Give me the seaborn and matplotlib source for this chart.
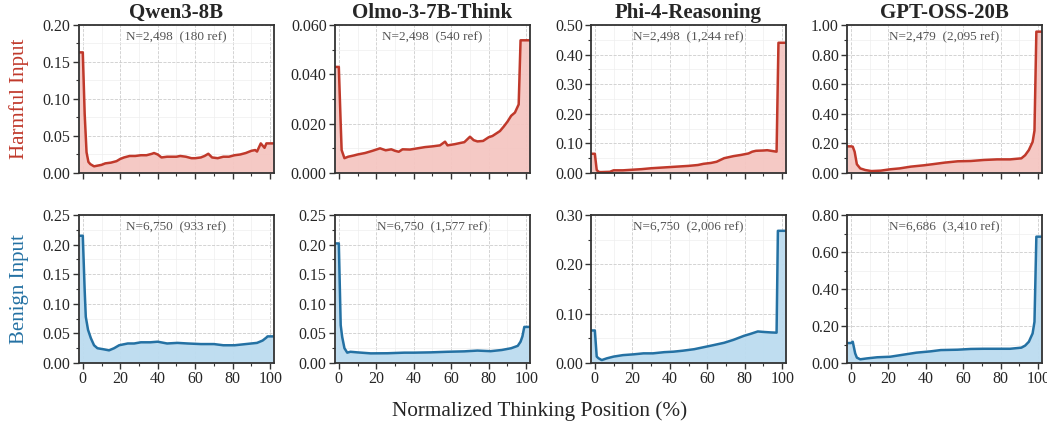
import numpy as np
import pandas as pd
import matplotlib
matplotlib.use("Agg")
import matplotlib.pyplot as plt
import seaborn as sns
from matplotlib.ticker import MultipleLocator, FormatStrFormatter

models = ["Qwen3-8B", "Olmo-3-7B-Think", "Phi-4-Reasoning", "GPT-OSS-20B"]
rows = ["Harmful Input", "Benign Input"]

# ---- Harmful series (x = normalized position %, y = density) ----
qwen_h_x = [-2, 0, 1, 2, 3, 4, 6, 8, 10, 12, 15, 18, 20, 22, 25, 28, 31, 34, 37, 38, 40, 42, 45, 50, 52, 55, 58, 60,
            63, 65, 67, 69, 72, 75, 78, 81, 84, 87, 90, 92, 93, 95, 97, 98, 100, 102]
qwen_h_y = [0.163, 0.163, 0.080, 0.028, 0.015, 0.012, 0.009, 0.010, 0.011, 0.013, 0.014, 0.016, 0.019, 0.021, 0.023,
            0.023, 0.024, 0.024, 0.026, 0.027, 0.025, 0.021, 0.022, 0.022, 0.023, 0.022, 0.020, 0.020, 0.021, 0.023,
            0.026, 0.021, 0.020, 0.022, 0.022, 0.024, 0.025, 0.027, 0.030, 0.031, 0.029, 0.040, 0.034, 0.040, 0.040, 0.040]

olmo_h_x = [-2, 0, 1, 1.5, 3, 5, 8, 10, 14, 18, 20, 22, 25, 28, 30, 32, 34, 38, 42, 46, 50, 54, 56.7, 58, 62, 65, 67,
            70, 72, 74, 77, 80, 82, 84, 86, 88, 90, 92, 94, 96, 97, 100, 102]
olmo_h_y = [0.043, 0.043, 0.020, 0.0093, 0.0060, 0.0066, 0.0071, 0.0075, 0.0081, 0.0090, 0.0095, 0.0100, 0.0092,
            0.0096, 0.0090, 0.0086, 0.0096, 0.0095, 0.0100, 0.0105, 0.0108, 0.0112, 0.0127, 0.0112, 0.0117, 0.0122,
            0.0125, 0.0147, 0.0133, 0.0128, 0.0130, 0.0145, 0.0150, 0.0160, 0.0170, 0.0188, 0.0208, 0.0232, 0.0245,
            0.0278, 0.0538, 0.0538, 0.0538]

phi_h_x = [-2, 0, 1, 2, 3, 8, 10, 15, 20, 25, 30, 35, 40, 45, 50, 55, 58, 62, 65, 69, 74, 78, 82, 84, 86, 90, 92, 95,
           97, 98, 100, 102]
phi_h_y = [0.065, 0.065, 0.010, 0.004, 0.003, 0.004, 0.009, 0.009, 0.011, 0.013, 0.016, 0.018, 0.020, 0.022, 0.024,
           0.027, 0.031, 0.034, 0.038, 0.050, 0.057, 0.061, 0.066, 0.072, 0.075, 0.076, 0.077, 0.074, 0.072, 0.440,
           0.440, 0.440]

gpt_h_x = [-2, 0, 1, 2, 3.2, 5, 7.7, 11, 16, 21, 26, 32, 39, 44, 50, 57, 64, 71, 78, 85, 91, 93, 95, 97, 98, 99, 100, 102]
gpt_h_y = [0.180, 0.180, 0.178, 0.144, 0.059, 0.031, 0.020, 0.013, 0.016, 0.025, 0.031, 0.043, 0.052, 0.060, 0.070,
           0.079, 0.081, 0.088, 0.092, 0.092, 0.099, 0.120, 0.155, 0.210, 0.286, 0.955, 0.955, 0.955]

# ---- Benign series ----
qwen_b_x = [-2, 0, 1, 1.6, 2.8, 4.3, 6, 7.8, 11.4, 14, 16.7, 19.4, 24, 27.4, 31, 36, 40, 45, 50.5, 56, 63, 70, 75, 81,
            84, 90, 93, 96, 98, 98.6, 100, 102]
qwen_b_y = [0.215, 0.215, 0.123, 0.078, 0.056, 0.042, 0.030, 0.025, 0.023, 0.0214, 0.025, 0.030, 0.033, 0.033, 0.035,
            0.035, 0.036, 0.033, 0.034, 0.033, 0.032, 0.032, 0.030, 0.030, 0.031, 0.033, 0.034, 0.038, 0.043, 0.045,
            0.045, 0.045]

olmo_b_x = [-2, 0, 1, 1.8, 3, 4.5, 6.2, 9.8, 17, 26, 35, 40, 49, 58, 67, 74, 81, 87, 92, 95.5, 97, 98, 99, 100, 102]
olmo_b_y = [0.202, 0.202, 0.064, 0.044, 0.025, 0.0175, 0.019, 0.018, 0.0163, 0.0165, 0.0175, 0.0175, 0.018, 0.019,
            0.0197, 0.021, 0.020, 0.022, 0.025, 0.029, 0.036, 0.045, 0.061, 0.061, 0.061]

phi_b_x = [-2, 0, 1, 2, 3.7, 6.4, 10, 15, 20.7, 26, 31, 37, 42, 47, 53, 58, 63, 69, 74, 79.5, 83, 87, 90, 94, 97, 97.7,
           100, 102]
phi_b_y = [0.066, 0.066, 0.013, 0.0095, 0.006, 0.0095, 0.013, 0.016, 0.0176, 0.0196, 0.0196, 0.022, 0.023, 0.025,
           0.028, 0.032, 0.036, 0.041, 0.047, 0.055, 0.059, 0.064, 0.063, 0.062, 0.0615, 0.268, 0.268, 0.268]

gpt_b_x = [-2, 0, 1, 2.3, 3.2, 5, 8.6, 14, 21, 28, 35, 42.5, 48, 57, 64, 71, 78, 85, 91, 93, 95, 97, 98, 99, 100, 102]
gpt_b_y = [0.108, 0.108, 0.115, 0.052, 0.029, 0.020, 0.025, 0.031, 0.034, 0.045, 0.056, 0.063, 0.070, 0.072, 0.076,
           0.077, 0.077, 0.077, 0.083, 0.094, 0.115, 0.160, 0.223, 0.683, 0.683, 0.683]

harm_series = [(qwen_h_x, qwen_h_y), (olmo_h_x, olmo_h_y), (phi_h_x, phi_h_y), (gpt_h_x, gpt_h_y)]
ben_series = [(qwen_b_x, qwen_b_y), (olmo_b_x, olmo_b_y), (phi_b_x, phi_b_y), (gpt_b_x, gpt_b_y)]

harm_notes = ["N=2,498  (180 ref)", "N=2,498  (540 ref)", "N=2,498  (1,244 ref)", "N=2,479  (2,095 ref)"]
ben_notes = ["N=6,750  (933 ref)", "N=6,750  (1,577 ref)", "N=6,750  (2,006 ref)", "N=6,686  (3,410 ref)"]

harm_ylim = [0.20, 0.060, 0.50, 1.00]
harm_major = [0.05, 0.020, 0.10, 0.20]
harm_fmt = ["%.2f", "%.3f", "%.2f", "%.2f"]
ben_ylim = [0.25, 0.25, 0.30, 0.80]
ben_major = [0.05, 0.05, 0.10, 0.20]
ben_fmt = ["%.2f", "%.2f", "%.2f", "%.2f"]

x_ticks = [0, 20, 40, 60, 80, 100]

RED = "#c0392b"
RED_FILL = "#f5c6c2"
BLUE = "#2471a3"
BLUE_FILL = "#bcdcf0"

sns.set_theme(style="ticks")
plt.rcParams["font.family"] = ["Liberation Serif", "DejaVu Serif"]
plt.rcParams["mathtext.fontset"] = "stix"

fig, axes = plt.subplots(2, 4, figsize=(10.47, 4.23), dpi=100)
fig.subplots_adjust(left=0.0755, right=0.9952, top=0.9409, bottom=0.1418, wspace=0.314, hspace=0.284)

def style_ax(ax, ymax, major, fmt, show_xlabels):
    ax.set_xlim(-2, 102)
    ax.set_ylim(0, ymax)
    ax.set_xticks(x_ticks)
    ax.xaxis.set_minor_locator(MultipleLocator(10))
    ax.yaxis.set_major_locator(MultipleLocator(major))
    ax.yaxis.set_minor_locator(MultipleLocator(major / 2))
    ax.yaxis.set_major_formatter(FormatStrFormatter(fmt))
    ax.grid(which="major", linestyle="--", linewidth=0.6, color="#cccccc")
    ax.grid(which="minor", linestyle="-", linewidth=0.5, color="#eeeeee")
    ax.set_axisbelow(True)
    ax.tick_params(which="major", direction="out", length=4, width=1.0, color="#333333", labelsize=11.5, pad=2)
    ax.tick_params(which="minor", direction="out", length=2.5, width=0.8, color="#333333")
    if not show_xlabels:
        ax.tick_params(axis="x", labelbottom=False)
    for s in ax.spines.values():
        s.set_visible(True)
        s.set_color("#333333")
        s.set_linewidth(1.3)
    ax.set_xlabel("")
    ax.set_ylabel("")

for j in range(4):
    # harmful
    ax = axes[0, j]
    xs, ys = harm_series[j]
    df = pd.DataFrame({"x": xs, "y": ys})
    ax.fill_between(df["x"], 0, df["y"], color=RED_FILL, alpha=0.95, linewidth=0)
    sns.lineplot(data=df, x="x", y="y", ax=ax, color=RED, linewidth=1.8, estimator=None, sort=False)
    style_ax(ax, harm_ylim[j], harm_major[j], harm_fmt[j], False)
    ax.set_title(models[j], fontsize=15, fontweight="bold", pad=5)
    ax.text(0.5, 0.96, harm_notes[j], transform=ax.transAxes, ha="center", va="top", fontsize=9.5, color="#555555")
    # benign
    ax = axes[1, j]
    xs, ys = ben_series[j]
    df = pd.DataFrame({"x": xs, "y": ys})
    ax.fill_between(df["x"], 0, df["y"], color=BLUE_FILL, alpha=0.95, linewidth=0)
    sns.lineplot(data=df, x="x", y="y", ax=ax, color=BLUE, linewidth=1.8, estimator=None, sort=False)
    style_ax(ax, ben_ylim[j], ben_major[j], ben_fmt[j], True)
    ax.text(0.5, 0.96, ben_notes[j], transform=ax.transAxes, ha="center", va="top", fontsize=9.5, color="#555555")

axes[0, 0].set_ylabel(rows[0], fontsize=15, color=RED, labelpad=10)
axes[1, 0].set_ylabel(rows[1], fontsize=15, color=BLUE, labelpad=10)
fig.text(0.515, 0.028, "Normalized Thinking Position (%)", ha="center", va="center", fontsize=15.3)

fig.savefig("out.png", dpi=100)
